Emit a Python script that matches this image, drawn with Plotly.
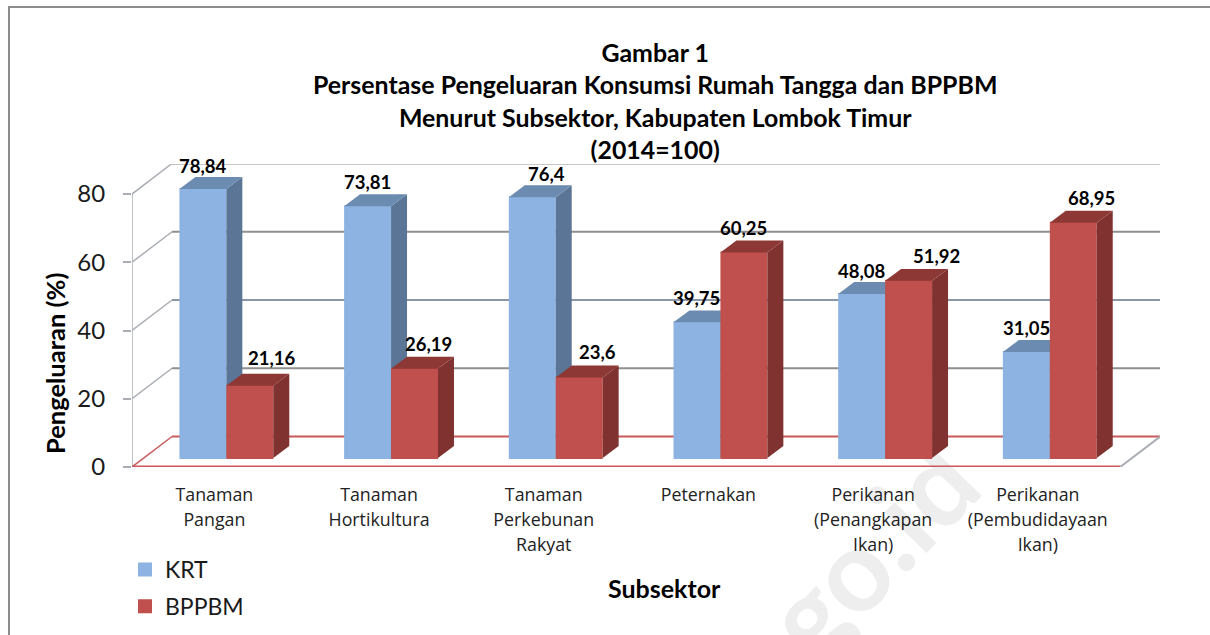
"""Persentase pengeluaran chart, Excel style 3D columns drawn on plotly axes."""

import plotly.graph_objects as go

categories = [
    "Tanaman<br>Pangan",
    "Tanaman<br>Hortikultura",
    "Tanaman<br>Perkebunan<br>Rakyat",
    "Peternakan",
    "Perikanan<br>(Penangkapan<br>Ikan)",
    "Perikanan<br>(Pembudidayaan<br>Ikan)",
]
krt = [78.84, 73.81, 76.4, 39.75, 48.08, 31.05]
bppbm = [21.16, 26.19, 23.6, 60.25, 51.92, 68.95]
krt_labels = ["78,84", "73,81", "76,4", "39,75", "48,08", "31,05"]
bppbm_labels = ["21,16", "26,19", "23,6", "60,25", "51,92", "68,95"]
y_ticks = [0, 20, 40, 60, 80]

W, H = 1210, 635
FONT = "Lato"

# depth of the fake 3D box, in axis units (1 x unit = one category)
WALL_DX, WALL_DY = 0.243, 8.94
BAR_DX, BAR_DY = 0.073, 2.64  # how far the bar front sits behind the axis plane
SIDE_DX, SIDE_DY = 0.097, 3.5
BAR_W = 0.285
X_RANGE = [-0.5, 5.742]
Y_RANGE = [0, 88.8]

BLUE, BLUE_SIDE, BLUE_TOP = "#8cb3e1", "#5b7596", "#6c8bb0"
RED, RED_SIDE, RED_TOP = "#c0504d", "#7f3230", "#8e3836"
GRID = "#8f8f8f"
GRID_40 = "#8b97a8"
WALL_EDGE = "#a9adb3"
FLOOR = "#c9595a"


def box_faces(values, offset):
    """Side and top parallelograms of every column, None separated."""
    side_x, side_y, top_x, top_y = [], [], [], []
    for i, v in enumerate(values):
        x0 = i + BAR_DX + offset
        x1 = x0 + BAR_W
        y0 = BAR_DY
        y1 = BAR_DY + v
        side_x += [x1, x1 + SIDE_DX, x1 + SIDE_DX, x1, x1, None]
        side_y += [y0, y0 + SIDE_DY, y1 + SIDE_DY, y1, y0, None]
        top_x += [x0, x0 + SIDE_DX, x1 + SIDE_DX, x1, x0, None]
        top_y += [y1, y1 + SIDE_DY, y1 + SIDE_DY, y1, y1, None]
    return side_x, side_y, top_x, top_y


def add_columns(fig, name, values, offset, colors, axes):
    front, side, top = colors
    xa, ya = axes
    fig.add_trace(
        go.Bar(
            x=[i + BAR_DX + offset + BAR_W / 2 for i in range(len(values))],
            y=values,
            base=BAR_DY,
            width=BAR_W - 0.012,  # the 2px outline makes up the difference
            name=name,
            legendgroup=name,
            marker=dict(color=front, line=dict(width=2, color=front)),
            xaxis=xa,
            yaxis=ya,
        )
    )
    side_x, side_y, top_x, top_y = box_faces(values, offset)
    for fx, fy, color in [(side_x, side_y, side), (top_x, top_y, top)]:
        fig.add_trace(
            go.Scatter(
                x=fx,
                y=fy,
                mode="lines",
                fill="toself",
                fillcolor=color,
                line=dict(width=0, color=color),
                showlegend=False,
                hoverinfo="skip",
                xaxis=xa,
                yaxis=ya,
            )
        )


def add_wall_line(fig, xs, ys, color, width):
    fig.add_trace(
        go.Scatter(
            x=xs,
            y=ys,
            mode="lines",
            line=dict(color=color, width=width),
            showlegend=False,
            hoverinfo="skip",
            cliponaxis=False,
        )
    )


fig = go.Figure()

# back wall: diagonal from the axis, then the gridline
for t in y_ticks:
    if t == 0:
        color = FLOOR
    elif t == 40:
        color = GRID_40
    else:
        color = GRID
    add_wall_line(fig, [-0.5, -0.5 + WALL_DX], [t, t + WALL_DY], FLOOR if t == 0 else WALL_EDGE, 1.5)
    add_wall_line(fig, [-0.5 + WALL_DX, 5.5 + WALL_DX], [t + WALL_DY, t + WALL_DY], color, 2)
# left wall edge, floor front and right edge
add_wall_line(fig, [-0.5, -0.5], [0, 80], WALL_EDGE, 1.5)
add_wall_line(fig, [-0.5, 5.5], [0, 0], FLOOR, 3)
add_wall_line(fig, [5.5, 5.5 + WALL_DX], [0, WALL_DY], WALL_EDGE, 2)

add_columns(fig, "KRT", krt, -BAR_W, (BLUE, BLUE_SIDE, BLUE_TOP), ("x2", "y2"))
add_columns(fig, "BPPBM", bppbm, 0, (RED, RED_SIDE, RED_TOP), ("x3", "y3"))

# value labels: excel left them where it left them, hence the per label nudges
krt_nudge = [0, 0, 14, 0, 0, 0]
bppbm_nudge = [22, 14, 18, 0, 28, 18]
krt_lift = [23, 24, 23, 24, 23, 24]
bppbm_lift = [28, 25, 25, 24, 25, 25]
for i in range(len(categories)):
    for values, labels, nudge, lift, off in [
        (krt, krt_labels, krt_nudge, krt_lift, -BAR_W),
        (bppbm, bppbm_labels, bppbm_nudge, bppbm_lift, 0),
    ]:
        fig.add_annotation(
            x=i + BAR_DX + off + BAR_W / 2,
            y=values[i] + BAR_DY,
            text=labels[i],
            showarrow=False,
            xshift=nudge[i],
            yshift=lift[i],
            font=dict(family=FONT, size=18.5, color="#000000", weight="bold"),
        )


def paper_text(text, px, py, size, angle=0):
    fig.add_annotation(
        x=px / W,
        y=1 - py / H,
        xref="paper",
        yref="paper",
        xanchor="center",
        yanchor="middle",
        text=text,
        textangle=angle,
        showarrow=False,
        font=dict(family=FONT, size=size, color="#000000", weight="bold"),
    )


paper_text(
    "Gambar 1<br>Persentase Pengeluaran Konsumsi Rumah Tangga dan BPPBM<br>"
    "Menurut Subsektor, Kabupaten Lombok Timur<br>(2014=100)",
    655,
    101,
    24.9,
)
paper_text("Subsektor", 664, 588, 25)
paper_text("Pengeluaran (%)", 55, 364, 25.5, -90)

# watermark, under the chart so it does not cover the tick labels
fig.add_shape(
    type="line",
    x0=868 / W,
    x1=968 / W,
    y0=1 - 598 / H,
    y1=1 - 598 / H,
    xref="paper",
    yref="paper",
    layer="below",
    line=dict(color="rgba(0,0,0,0)", width=0),
    label=dict(
        text="go.id",
        textangle=-46,
        textposition="middle center",
        font=dict(family=FONT, size=114, color="#eeeeee", weight="bold"),
    ),
)

# picture frame, open at the bottom and right
fig.add_shape(
    type="path",
    path=f"M {9 / W} 0 L {9 / W} {1 - 7 / H} L 1 {1 - 7 / H}",
    xref="paper",
    yref="paper",
    line=dict(color="#8c8c8c", width=2),
)

overlay = dict(
    range=X_RANGE,
    domain=[132 / W, 1160 / W],
    visible=False,
    fixedrange=True,
)
overlay_y = dict(
    range=Y_RANGE,
    domain=[1 - 467 / H, 1 - 164 / H],
    visible=False,
    fixedrange=True,
)
fig.update_layout(
    width=W,
    height=H,
    autosize=False,
    margin=dict(l=0, r=0, t=0, b=0, autoexpand=False),
    paper_bgcolor="rgba(0,0,0,0)",
    plot_bgcolor="rgba(0,0,0,0)",
    font=dict(family=FONT, color="#1a1a1a"),
    barmode="overlay",
    xaxis=dict(
        range=X_RANGE,
        domain=[132 / W, 1160 / W],
        tickmode="array",
        tickvals=list(range(len(categories))),
        ticktext=[
            "<br>".join(f'<span style="font-size:17.8px">{p}</span>' for p in c.split("<br>"))
            for c in categories
        ],
        tickfont=dict(family="Open Sans", size=19.2, color="#222222"),
        ticks="",
        showgrid=False,
        zeroline=False,
        showline=False,
        tickangle=0,
        ticklabelstandoff=14,
    ),
    yaxis=dict(
        range=Y_RANGE,
        domain=[1 - 467 / H, 1 - 164 / H],
        tickmode="array",
        tickvals=y_ticks,
        ticks="outside",
        ticklen=8,
        tickwidth=1.5,
        tickcolor=WALL_EDGE,
        tickfont=dict(size=24, color="#1a1a1a"),
        ticklabelstandoff=13,
        showgrid=False,
        zeroline=False,
        showline=False,
    ),
    xaxis2=dict(overlay, overlaying="x", anchor="y2"),
    yaxis2=dict(overlay_y, overlaying="y", anchor="x2"),
    xaxis3=dict(overlay, overlaying="x", anchor="y3"),
    yaxis3=dict(overlay_y, overlaying="y", anchor="x3"),
    legend=dict(
        x=125 / W,
        y=1 - 548 / H,
        xanchor="left",
        yanchor="top",
        bgcolor="rgba(0,0,0,0)",
        font=dict(family=FONT, size=23, color="#1a1a1a"),
        tracegroupgap=4,
        itemwidth=30,
        traceorder="grouped",
    ),
    showlegend=True,
)

# the page's default body margin would shift everything by 8px
fig.write_html(
    "out.html",
    config=dict(displayModeBar=False),
    post_script="document.body.style.margin='0';",
)
